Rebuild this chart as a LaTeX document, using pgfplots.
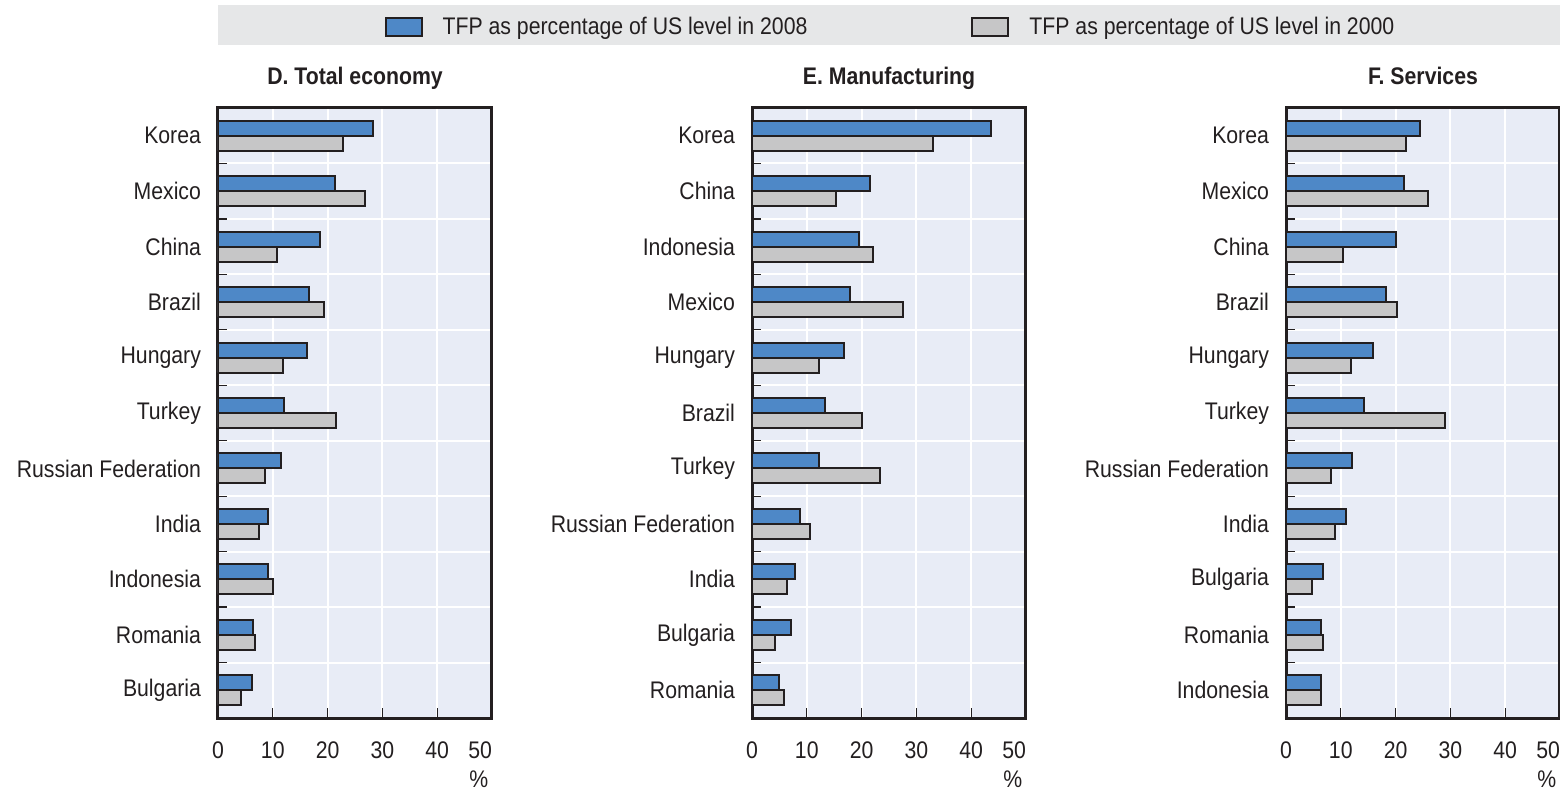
\documentclass[border=0pt]{standalone}
\usepackage{pgfplots}
\pgfplotsset{compat=1.18}
\usepackage{pgfplotstable}
\usepackage{fontspec}
\setmainfont{Liberation Sans}[FakeStretch=0.885]

\definecolor{bar08}{HTML}{4E88C7}
\definecolor{bar00}{HTML}{C6C6C7}
\definecolor{panelbg}{HTML}{E8ECF6}
\definecolor{keybg}{HTML}{E6E7E8}
\definecolor{ink}{HTML}{231F20}

\newcommand{\lblfont}{\fontsize{12}{14.4}\selectfont}

% TFP as percentage of US level; pos 10 = top row
\pgfplotstableread[col sep=comma]{
pos,v2008,v2000
10,28.3,22.8
9,21.3,26.8
8,18.6,10.7
7,16.6,19.3
6,16.2,11.8
5,12.1,21.6
4,11.5,8.5
3,9.1,7.5
2,9.1,10.1
1,6.4,6.8
0,6.2,4.2
}\totaltab
\pgfplotstableread[col sep=comma]{
pos,v2008,v2000
10,43.6,33.1
9,21.5,15.4
8,19.6,22.1
7,17.9,27.5
6,16.8,12.2
5,13.4,20.1
4,12.3,23.3
3,8.8,10.6
2,7.8,6.4
1,7.1,4.2
0,5.0,5.8
}\manuftab
\pgfplotstableread[col sep=comma]{
pos,v2008,v2000
10,24.5,21.9
9,21.5,25.9
8,20.1,10.4
7,18.3,20.3
6,15.9,11.8
5,14.2,29.1
4,12.1,8.2
3,10.9,9.0
2,6.8,4.8
1,6.4,6.8
0,6.4,6.4
}\servtab

\pgfplotsset{
  panel/.style={
    xbar, bar width=7.5pt,
    scale only axis, width=137pt, height=305pt,
    xmin=0, xmax=50, ymin=-0.5, ymax=10.5,
    axis background/.style={fill=panelbg},
    axis line style={line width=1.5pt, ink},
    xtick={0,10,...,50},
    xticklabels={0,10,20,30,40,\makebox[0pt][r]{50}},
    xtick pos=bottom, ytick pos=left,
    tick align=inside, xtick align=inside, ytick align=inside,
    major tick length=5pt, minor tick length=4.5pt,
    tick style={ink, line width=0.6pt},
    major y tick style={draw=none},
    ytick={0,...,10},
    minor ytick={0.5,1.5,...,9.5},
    xmajorgrids, yminorgrids,
    major grid style={white, line width=1pt},
    minor grid style={white, line width=1pt},
    tick label style={font=\lblfont, text=ink},
    xticklabel style={yshift=-8.5pt},
    yticklabel style={xshift=-5pt},
    xlabel={\%},
    xlabel style={at={(ticklabel cs:0.952)}, anchor=north, font=\lblfont, text=ink, inner sep=2.2pt},
    title style={at={(0.5,1)}, anchor=base, yshift=5.5pt, font=\lblfont\bfseries, text=ink},
  },
  new/.style={xbar, fill=bar08, draw=ink, line width=1pt, bar shift=3.75pt,
    legend image code/.code={\draw[fill=bar08, draw=ink, line width=1pt] (0pt,-4.5pt) rectangle (18pt,4.5pt);
      \path[draw=none, fill=none] (0pt,0pt) -- (26.5pt,0pt);}},
  old/.style={xbar, fill=bar00, draw=ink, line width=1pt, bar shift=-3.75pt,
    legend image code/.code={\draw[fill=bar00, draw=ink, line width=1pt] (0pt,-4.5pt) rectangle (18pt,4.5pt);
      \path[draw=none, fill=none] (0pt,0pt) -- (26.5pt,0pt);}},
}

\begin{document}
\begin{tikzpicture}
\useasboundingbox (0,0) rectangle (780pt,-395.5pt);
\fill[keybg] (109pt,-2.5pt) rectangle (780pt,-22.5pt);

\begin{axis}[panel, at={(109pt,-359pt)}, anchor=south west,
  title={D. Total economy},
  yticklabels={Bulgaria,Romania,Indonesia,India,Russian Federation,Turkey,Hungary,Brazil,China,Mexico,Korea},
  legend style={at={(2.458,1.133)}, anchor=center, draw=none, fill=none,
    legend columns=2, font=\lblfont, text=ink,
    /tikz/every even column/.append style={column sep=80pt}},
  legend cell align=left]
\addplot[new] table[x=v2008, y=pos] {\totaltab};
\addlegendentry{TFP as percentage of US level in 2008}
\addplot[old] table[x=v2000, y=pos] {\totaltab};
\addlegendentry{TFP as percentage of US level in 2000}
\end{axis}

\begin{axis}[panel, at={(376pt,-359pt)}, anchor=south west,
  title={E. Manufacturing},
  yticklabels={Romania,Bulgaria,India,Russian Federation,Turkey,Brazil,Hungary,Mexico,Indonesia,China,Korea}]
\addplot[new] table[x=v2008, y=pos] {\manuftab};
\addplot[old] table[x=v2000, y=pos] {\manuftab};
\end{axis}

\begin{axis}[panel, at={(643pt,-359pt)}, anchor=south west,
  title={F. Services},
  yticklabels={Indonesia,Romania,Bulgaria,India,Russian Federation,Turkey,Hungary,Brazil,China,Mexico,Korea}]
\addplot[new] table[x=v2008, y=pos] {\servtab};
\addplot[old] table[x=v2000, y=pos] {\servtab};
\end{axis}
\end{tikzpicture}
\end{document}
